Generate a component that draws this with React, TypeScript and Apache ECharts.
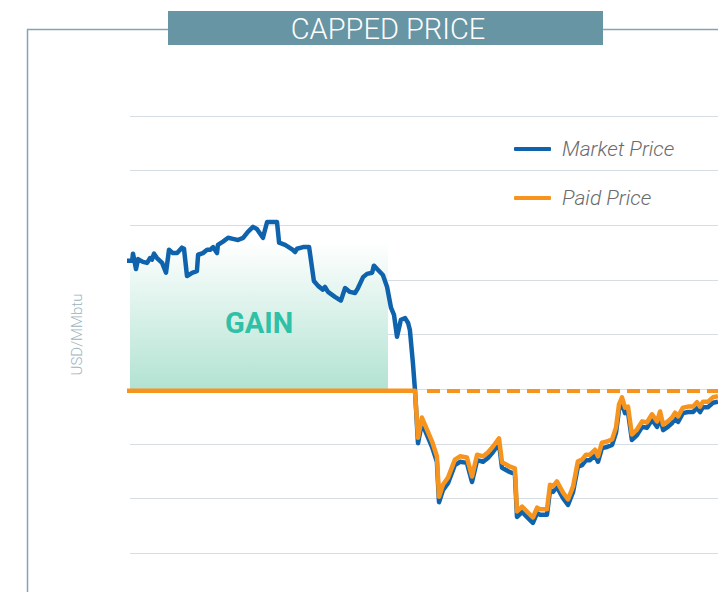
import React, { useEffect, useRef } from "react";
import * as echarts from "echarts";

const tradingDay = [
  0, 2.7, 3, 4, 4.7, 6.3, 7.7, 8.7, 9.3, 10, 11, 12.7, 14, 15, 16.3, 17.7, 19.3, 20, 21, 22.7,
  24.3, 24.7, 26.3, 27.7, 28.7, 29.7, 31, 31.3, 33, 34.7, 36.3, 38, 39.7, 41.3, 43, 44.3, 46.3, 47.7, 48.7, 51,
  51.7, 53.7, 56.3, 57, 57.7, 59.7, 61.7, 63.3, 64.7, 66.3, 67, 68, 70.3, 72.3, 73.7, 75.3, 77, 78, 79.7, 81,
  82.7, 83.3, 84.7, 86.3, 87.7, 89, 90, 91, 92.3, 93.7, 94.7, 95.3, 96.3, 97, 98, 99.3, 101, 102.7, 104.3, 105,
  106.3, 108, 110.3, 112, 114.3, 116, 117.7, 119.7, 121.3, 123, 125, 126, 128.7, 130.3, 131, 132.7, 134.3, 136.3, 137.7, 138.7,
  141, 142, 143, 144.3, 146.3, 148, 149.7, 151.3, 152.7, 154, 155.3, 157, 158, 159.3, 161, 162.7, 164, 165, 166, 167,
  168, 169.3, 171, 172.7, 174.3, 176, 177.7, 178.7, 179.7, 181.3, 182.7, 183.7, 184.7, 186.3, 188, 189.7, 191, 192, 193, 194.7,
  196.3, 198,
];

const marketPrice = [
  5.35, 5.35, 5.48, 5.2, 5.38, 5.33, 5.31, 5.4, 5.37, 5.48, 5.4, 5.31, 5.13, 5.55, 5.49, 5.49, 5.59, 5.57, 5.07, 5.13,
  5.16, 5.46, 5.49, 5.55, 5.55, 5.6, 5.49, 5.64, 5.7, 5.77, 5.75, 5.73, 5.77, 5.88, 5.97, 5.93, 5.77, 6.06, 6.06, 6.06,
  5.68, 5.64, 5.55, 5.51, 5.57, 5.6, 5.6, 4.98, 4.89, 4.82, 4.87, 4.78, 4.69, 4.62, 4.85, 4.78, 4.76, 4.85, 5.05, 5.11,
  5.13, 5.26, 5.18, 5.09, 4.87, 4.49, 4.36, 3.96, 4.27, 4.3, 4.21, 4.08, 3.48, 2.98, 2.01, 2.38, 2.16, 1.94, 1.67, 0.93,
  1.15, 1.28, 1.61, 1.67, 1.65, 1.3, 1.7, 1.67, 1.74, 1.85, 2.0, 1.56, 1.48, 1.45, 0.66, 0.75, 0.66, 0.55, 0.73, 0.7,
  0.7, 1.15, 1.12, 1.21, 1.01, 0.88, 1.12, 1.58, 1.61, 1.7, 1.7, 1.79, 1.67, 1.92, 1.94, 1.98, 2.2, 2.62, 2.75, 2.56,
  2.58, 2.07, 2.16, 2.31, 2.29, 2.44, 2.31, 2.49, 2.25, 2.31, 2.38, 2.47, 2.4, 2.56, 2.58, 2.58, 2.66, 2.58, 2.67, 2.67,
  2.75, 2.77,
];

const capPrice = 2.97;
const optionPremium = 0.1;
const paidPrice = marketPrice.map((v) => Math.min(v + optionPremium, capPrice));

const gainStartDay = 2;
const gainEndDay = 88;
const gainTop = 5.7;
const dashStartDay = 101;
const yTicks = [0, 8, 1];

const BLUE = "#0f63ad";
const ORANGE = "#f7941d";

export default function App() {
  const ref = useRef<HTMLDivElement>(null);
  useEffect(() => {
    if (!ref.current) return;
    const chart = echarts.init(ref.current, null, { renderer: "svg" });
    const market = tradingDay.map((d, i) => [d, marketPrice[i]]);
    const paid = tradingDay.map((d, i) => [d, paidPrice[i]]);
    chart.setOption({
      animation: false,
      backgroundColor: "#ffffff",
      grid: { left: 130, right: 0, top: 116, bottom: 39, containLabel: false },
      xAxis: {
        type: "value",
        min: gainStartDay,
        max: 198,
        show: false,
      },
      yAxis: {
        type: "value",
        min: yTicks[0],
        max: yTicks[1],
        interval: yTicks[2],
        axisLine: { show: false },
        axisTick: { show: false },
        axisLabel: { show: false },
        splitLine: { show: true, lineStyle: { color: "#d6dee4", width: 1.2 } },
        name: "USD/MMbtu",
        nameLocation: "middle",
        nameGap: 46,
        nameRotate: 90,
        nameTextStyle: {
          color: "#9db3bd",
          fontSize: 15,
          fontFamily: "Roboto",
          fontWeight: 300,
        },
      },
      legend: {
        orient: "vertical",
        left: 509,
        top: 133,
        itemWidth: 37,
        itemHeight: 4,
        itemGap: 27,
        icon: "roundRect",
        textStyle: {
          color: "#6b6b6b",
          fontSize: 21,
          fontStyle: "italic",
          fontWeight: 300,
          fontFamily: "Roboto",
          lineHeight: 22,
          padding: [0, 0, 0, 6],
        },
        data: ["Market Price", "Paid Price"],
      },
      series: [
        {
          name: "Market Price",
          type: "line",
          data: market,
          clip: false,
          showSymbol: false,
          symbol: "none",
          color: BLUE,
          lineStyle: { color: BLUE, width: 4.5, join: "round" },
          z: 3,
          markArea: {
            silent: true,
            itemStyle: {
              color: new echarts.graphic.LinearGradient(0, 0, 0, 1, [
                { offset: 0, color: "rgba(255,255,255,1)" },
                { offset: 1, color: "#b1e2d2" },
              ]),
            },
            label: {
              show: true,
              position: "inside",
              offset: [0, 7],
              color: "#30bfa7",
              fontSize: 29,
              fontWeight: "bold",
              fontFamily: "Roboto",
            },
            data: [[{ name: "GAIN", coord: [gainStartDay, gainTop] }, { coord: [gainEndDay, capPrice] }]],
          },
        },
        {
          name: "Paid Price",
          type: "line",
          data: paid,
          clip: false,
          showSymbol: false,
          symbol: "none",
          color: ORANGE,
          lineStyle: { color: ORANGE, width: 4.5, join: "round" },
          z: 4,
          markLine: {
            silent: true,
            symbol: ["none", "none"],
            label: { show: false },
            lineStyle: { color: ORANGE, width: 4, type: [13, 7] },
            data: [[{ coord: [dashStartDay, capPrice] }, { coord: [198, capPrice] }]],
          },
        },
      ],
      graphic: [
        { type: "line", shape: { x1: 27.5, y1: 29.5, x2: 27.5, y2: 600 }, style: { stroke: "#89a3ae", lineWidth: 1.5 } },
        { type: "line", shape: { x1: 27, y1: 29.5, x2: 168, y2: 29.5 }, style: { stroke: "#89a3ae", lineWidth: 1.5 } },
        { type: "line", shape: { x1: 603, y1: 29.5, x2: 718, y2: 29.5 }, style: { stroke: "#89a3ae", lineWidth: 1.5 } },
        { type: "rect", shape: { x: 168, y: 11, width: 435, height: 34 }, style: { fill: "#6795a4" } },
        {
          type: "text",
          x: 388,
          y: 29,
          style: {
            text: "CAPPED PRICE",
            fill: "#ffffff",
            fontSize: 29,
            fontWeight: 300,
            fontFamily: "Roboto",
            textAlign: "center",
            textVerticalAlign: "middle",
          },
        },
      ],
    });
    return () => chart.dispose();
  }, []);
  return (
    <div
      ref={ref}
      style={{ position: "absolute", left: 0, top: 0, width: 718, height: 592 }}
    />
  );
}
